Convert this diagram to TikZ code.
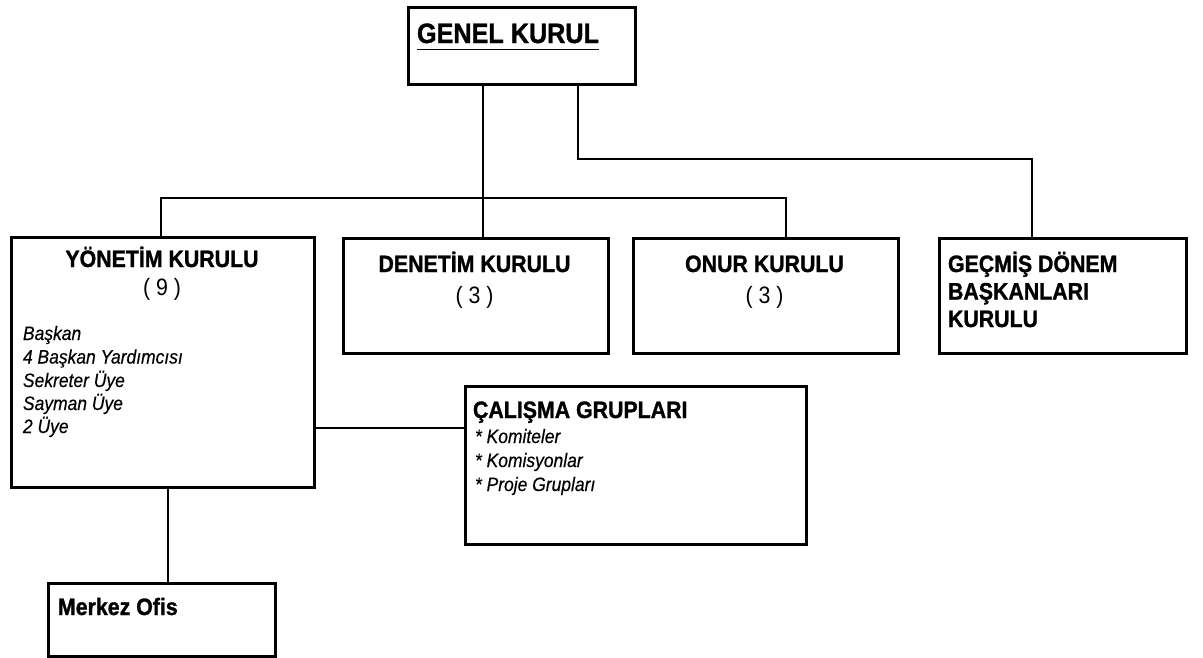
\documentclass[tikz,border=0pt]{standalone}
\usepackage{fontspec}
\setmainfont{Liberation Sans}[FakeStretch=0.9, BoldFeatures={FakeBold=1.2}, ItalicFeatures={FakeBold=0.4}, BoldItalicFeatures={FakeBold=1.2}]
\newcommand\bigf{\bfseries\fontsize{28}{32}\selectfont}
\newcommand\titlef{\bfseries\fontsize{23.7}{27.5}\selectfont}
\newcommand\numf{\fontsize{23.7}{27.5}\selectfont}
\newcommand\itf{\itshape\fontsize{19.4}{23}\selectfont}
\begin{document}
\begin{tikzpicture}[x=1pt,y=-1pt,
  orgbox/.style={draw, line width=2.6pt, rectangle, inner sep=0pt, anchor=north west},
  conn/.style={line width=2pt},
  txt/.style={inner sep=0pt, outer sep=0pt}]
\useasboundingbox[fill=white] (0,0) rectangle (1203,657);

% boxes
\node[orgbox, minimum width=227, minimum height=77] (genel) at (407,6) {};
\node[orgbox, minimum width=303, minimum height=250] (yon) at (10,236) {};
\node[orgbox, minimum width=265, minimum height=115] (den) at (342,237) {};
\node[orgbox, minimum width=265, minimum height=115] (onur) at (632,237) {};
\node[orgbox, minimum width=247, minimum height=115] (gecmis) at (938,237) {};
\node[orgbox, minimum width=341, minimum height=158] (cal) at (464,385) {};
\node[orgbox, minimum width=227, minimum height=73] (merkez) at (47,582) {};

% texts
\node[txt, anchor=base west] (tgenel) at (417,43) {\bigf GENEL KURUL};
\draw[line width=1.8pt] ([yshift=-6.5pt]tgenel.base west) -- ([yshift=-6.5pt]tgenel.base east);

\node[txt, anchor=base] (tyon) at (162,267) {\titlef YÖNETİM KURULU};
\node[txt, anchor=base] (nyon) at (162,295) {\numf ( 9 )};
\node[txt, anchor=base west] (y1) at (23,340) {\itf Başkan};
\node[txt, anchor=base west] (y2) at (23,363.5) {\itf 4 Başkan Yardımcısı};
\node[txt, anchor=base west] (y3) at (23,387) {\itf Sekreter Üye};
\node[txt, anchor=base west] (y4) at (23,410) {\itf Sayman Üye};
\node[txt, anchor=base west] (y5) at (23,433) {\itf 2 Üye};

\node[txt, anchor=base] (tden) at (474.5,272) {\titlef DENETİM KURULU};
\node[txt, anchor=base] (nden) at (474.5,303) {\numf ( 3 )};
\node[txt, anchor=base] (tonur) at (764.5,272) {\titlef ONUR KURULU};
\node[txt, anchor=base] (nonur) at (764.5,303) {\numf ( 3 )};

\node[txt, anchor=base west] (g1t) at (948,272) {\titlef GEÇMİŞ DÖNEM};
\node[txt, anchor=base west] (g2t) at (948,299.5) {\titlef BAŞKANLARI};
\node[txt, anchor=base west] (g3t) at (948,327) {\titlef KURULU};

\node[txt, anchor=base west] (tcal) at (473,418) {\titlef ÇALIŞMA GRUPLARI};
\node[txt, anchor=base west] (c1t) at (475,443) {\itf * Komiteler};
\node[txt, anchor=base west] (c2t) at (475,467) {\itf * Komisyonlar};
\node[txt, anchor=base west] (c3t) at (475,491) {\itf * Proje Grupları};

\node[txt, anchor=base west] (tmerkez) at (58,615) {\titlef Merkez Ofis};

% connectors
\coordinate (j1) at (483,198);
\coordinate (hl) at (161,198);
\coordinate (hr) at (786,198);
\coordinate (ga) at (578,159);
\coordinate (gb) at (1032,159);
\coordinate (cc) at (313,428);
\coordinate (mm) at (168,500);

\draw[conn] (genel.south -| j1) -- (den.north -| j1);
\draw[conn] (yon.north -| hl) -- (hl) -- (hr) -- (onur.north -| hr);
\draw[conn] (genel.south -| ga) -- (ga) -- (gb) -- (gecmis.north -| gb);
\draw[conn] (yon.east |- cc) -- (cal.west |- cc);
\draw[conn] (yon.south -| mm) -- (merkez.north -| mm);
\end{tikzpicture}
\end{document}
